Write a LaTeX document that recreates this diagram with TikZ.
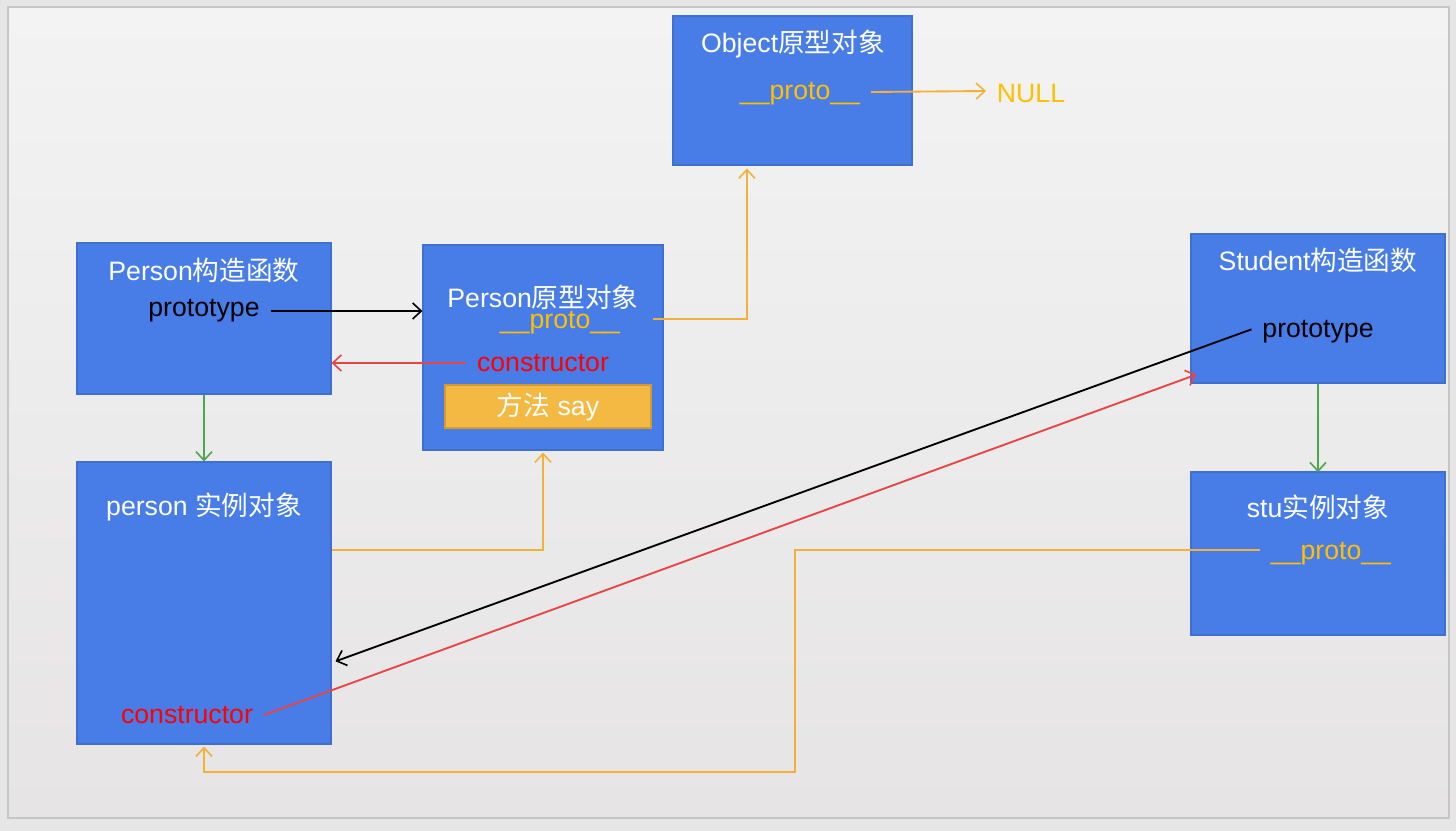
\documentclass[tikz,border=0pt]{standalone}
\usepackage{fontspec}
\setmainfont{Liberation Sans}
\newfontfamily\cjk{Noto Sans CJK SC}
\usetikzlibrary{arrows.meta,fit,calc}
\definecolor{outerbg}{HTML}{E6E6E6}
\definecolor{slidetop}{HTML}{F3F3F3}
\definecolor{slidebot}{HTML}{E6E4E4}
\definecolor{slideline}{HTML}{C6C6C6}
\definecolor{boxblue}{HTML}{487DE8}
\definecolor{boxline}{HTML}{3F6FCF}
\definecolor{protoyel}{HTML}{FFC000}
\definecolor{lineorange}{HTML}{F4B13A}
\definecolor{sayfill}{HTML}{F4B942}
\definecolor{sayline}{HTML}{D49A2C}
\definecolor{redtxt}{HTML}{FF0000}
\definecolor{redline}{HTML}{E84444}
\definecolor{greenline}{HTML}{4CA64C}
\begin{document}
\begin{tikzpicture}[x=0.75pt,y=-0.75pt,
  bluebox/.style={draw=boxline,fill=boxblue,line width=0.8pt,inner sep=0pt},
  saybox/.style={draw=sayline,fill=sayfill,line width=0.8pt,inner sep=0pt},
  txt/.style={font=\fontsize{20}{24}\selectfont,inner xsep=8pt,inner ysep=2pt},
  wtxt/.style={txt,text=white},
  ytxt/.style={txt,text=protoyel},
  btxt/.style={txt,text=black},
  rtxt/.style={txt,text=redtxt},
  tip/.style={-{Straight Barb[length=6.5pt,width=12pt,line width=1.2pt]}},
  conn/.style={line width=1.4pt},
  oline/.style={conn,draw=lineorange},
  kline/.style={conn,draw=black},
  rline/.style={conn,draw=redline},
  gline/.style={conn,draw=greenline}]
\useasboundingbox (0,0) rectangle (1456,831);
\fill[outerbg] (0,0) rectangle (1456,831);
\shade[top color=slidetop,bottom color=slidebot] (8,7) rectangle (1449,818);
\draw[slideline,line width=1pt] (8,7) rectangle (1449,818);

% boxes
\node[bluebox,fit={(673,16) (912,165)}] (obj) {};
\node[bluebox,fit={(77,243) (331,394)}] (pc) {};
\node[bluebox,fit={(423,245) (663,450)}] (pp) {};
\node[bluebox,fit={(77,462) (331,744)}] (pi) {};
\node[bluebox,fit={(1191,234) (1445,383)}] (sc) {};
\node[bluebox,fit={(1191,472) (1445,635)}] (si) {};
\node[saybox,fit={(445,385) (651,428)}] (say) {};

% texts
\node[wtxt] (tobj) at (793,44) {Object{\cjk 原型对象}};
\node[ytxt] (pobj) at (800,94) {\_\_proto\_\_};
\node[ytxt] (null) at (1031,93) {NULL};
\node[wtxt] (tpc) at (204,270) {Person{\cjk 构造函数}};
\node[btxt] (ptpc) at (204,311) {prototype};
\node[wtxt] (tpp) at (543,297) {Person{\cjk 原型对象}};
\node[ytxt] (ppp) at (560,323) {\_\_proto\_\_};
\node[rtxt] (cpp) at (543,363) {constructor};
\node[wtxt] (tsay) at (548,407) {{\cjk 方法} say};
\node[wtxt] (tpi) at (204,507) {person {\cjk 实例对象}};
\node[rtxt] (cpi) at (187,715) {constructor};
\node[wtxt] (tsc) at (1318,260) {Student{\cjk 构造函数}};
\node[btxt] (ptsc) at (1318,332) {prototype};
\node[wtxt] (tsi) at (1318,507) {stu{\cjk 实例对象}};
\node[ytxt] (psi) at (1331,554) {\_\_proto\_\_};

\coordinate (bend) at (795,772);

% connectors
\draw[oline,tip] ([yshift=1.5pt]pobj.east) -- ([yshift=1.5pt]null.west);
\draw[kline,tip] (ptpc.east) -- (ptpc.east -| pp.west);
\draw[rline,tip] (cpp.west) -- (cpp.west -| pc.east);
\draw[oline,tip] ([xshift=-8pt,yshift=3pt]ppp.east -| pp.east) -| ($(obj.south west)!0.31!(obj.south east)+(0,3)$);
\draw[gline,tip] (pc.south) -- (pi.north);
\draw[oline,tip] ($(pi.north east)!0.312!(pi.south east)$) -| ($(pp.south)+(0,2)$);
\draw[kline,tip] ([yshift=2pt]ptsc.west) -- ($(pi.north east)!0.706!(pi.south east)+(4,0)$);
\draw[rline,tip] (cpi.east) -- ([shift={(6,-9)}]sc.south west);
\draw[gline,tip] (sc.south) -- ([yshift=-0.6pt]si.north);
\draw[oline,tip] ([yshift=3pt]psi.west) -| (bend) -| ($(pi.south)+(0,2)$);
\end{tikzpicture}
\end{document}
